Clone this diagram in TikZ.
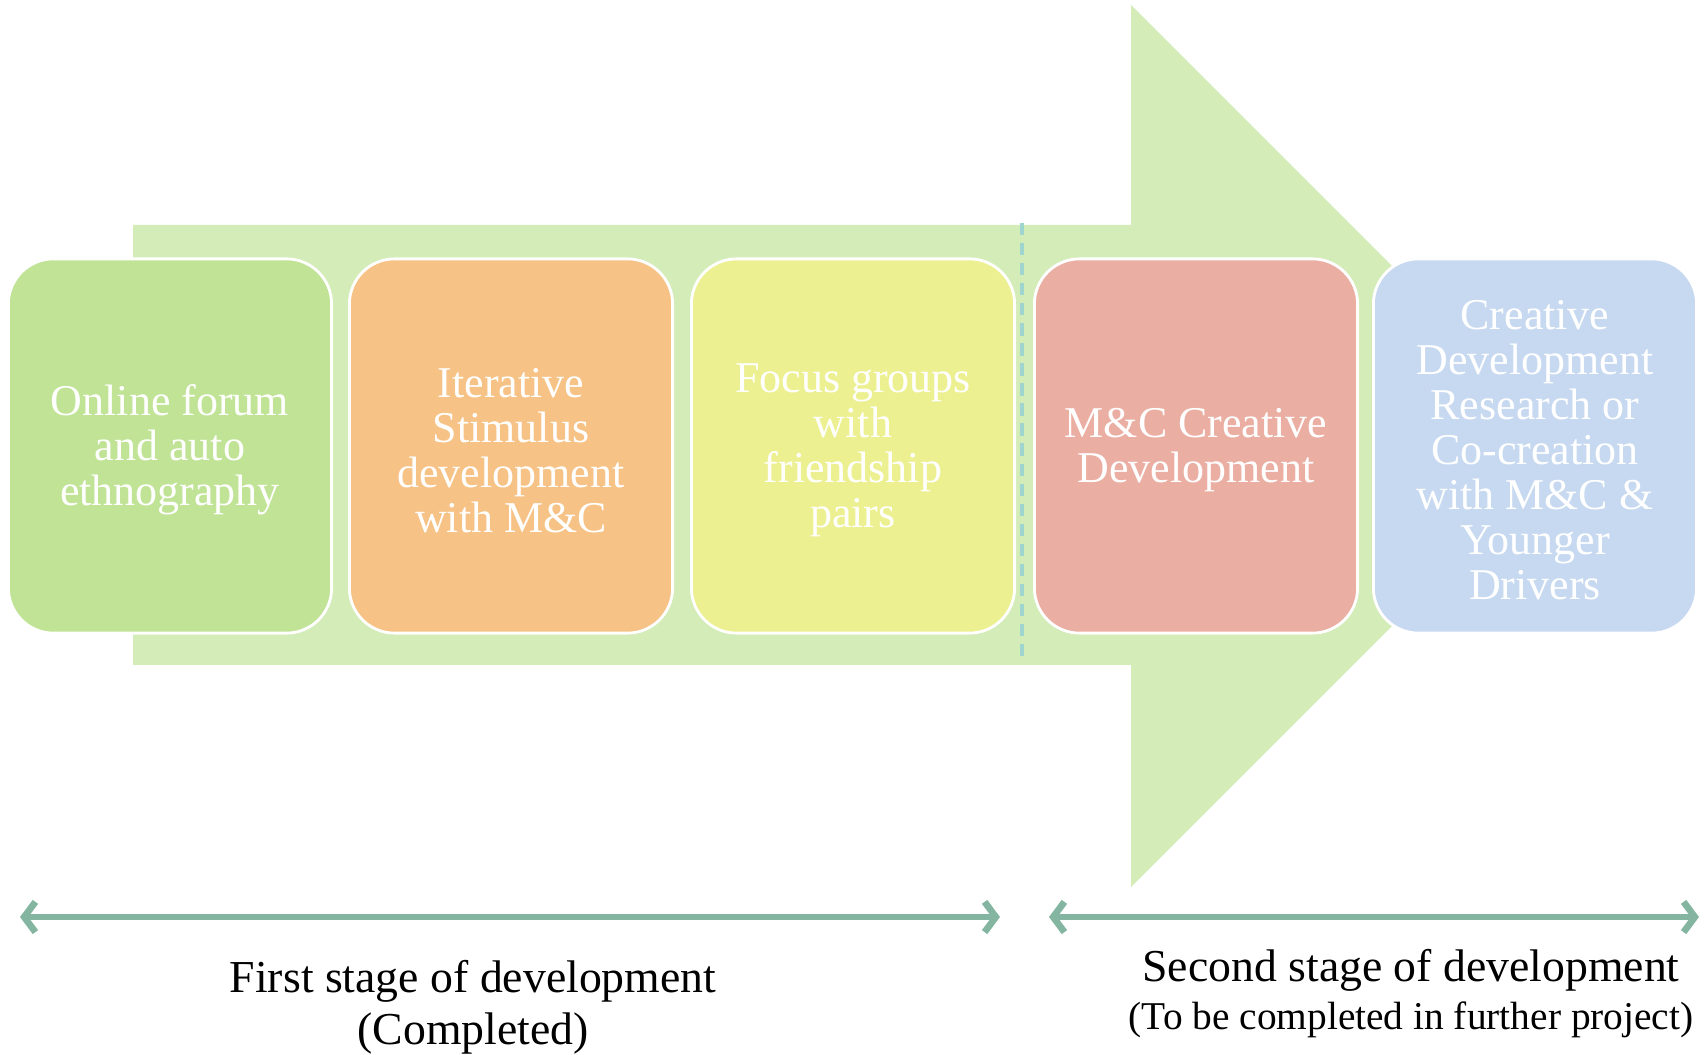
\documentclass[tikz,border=0pt]{standalone}
\usepackage{fontspec}
\setmainfont{Liberation Serif}
\usetikzlibrary{arrows.meta}
\definecolor{arrowbg}{HTML}{D3ECB8}
\definecolor{forumgreen}{HTML}{C0E396}
\definecolor{stimorange}{HTML}{F6C285}
\definecolor{focusyellow}{HTML}{ECF091}
\definecolor{creativepink}{HTML}{EBAEA2}
\definecolor{researchblue}{HTML}{C7D9F0}
\definecolor{stagegreen}{HTML}{84B5A0}
\definecolor{splitteal}{HTML}{9ED5CF}
\begin{document}
\begin{tikzpicture}[x=0.01cm, y=-0.01cm,
  stage box/.style={rectangle, draw=white, line width=0.8pt, rounded corners=0.45cm, minimum width=3.23cm, minimum height=3.74cm, align=center, text=white, font=\fontsize{12.5}{12.8}\selectfont},
  stage arrow/.style={draw=stagegreen, line width=1.9pt, {Straight Barb[length=3.2pt,width=8.6pt]}-{Straight Barb[length=3.2pt,width=8.6pt]}}]
\useasboundingbox (0,0) rectangle (1705,1055);
% big arrow behind the steps
\fill[arrowbg] (133,225) -- (1131,225) -- (1131,5) -- (1572,446) -- (1131,887) -- (1131,665) -- (133,665) -- cycle;
\coordinate (splittop) at (1022,223);
\coordinate (splitbot) at (1022,660);
\draw[splitteal, line width=1pt, dash pattern=on 3.5pt off 2.2pt] (splittop) -- (splitbot);
\begin{scope}[every node/.style={stage box}]
\node[fill=forumgreen] (forum) at (170,446) {\rule{0pt}{10.8pt}Online forum\\and auto\\ethnography};
\node[fill=stimorange] (stimulus) at (511,446) {\rule{0pt}{10.8pt}Iterative\\Stimulus\\development\\with M\&C};
\node[fill=focusyellow] (focus) at (853,446) {\rule{0pt}{10.8pt}Focus groups\\with\\friendship\\pairs};
\node[fill=creativepink] (creative) at (1196,446) {\rule{0pt}{10.8pt}M\&C Creative\\Development};
\node[fill=researchblue] (research) at (1535,446) {\rule{0pt}{10.8pt}Creative\\Development\\Research or\\Co-creation\\with M\&C \&\\Younger\\Drivers};
\end{scope}
\coordinate (firstl) at (20,917);
\coordinate (firstr) at (1000,917);
\coordinate (secondl) at (1049,917);
\coordinate (secondr) at (1699,917);
\draw[stage arrow] (firstl) -- (firstr);
\draw[stage arrow] (secondl) -- (secondr);
\node[align=center, font=\fontsize{13}{14.8}\selectfont] (firstlabel) at (473,1007) {First stage of development\\(Completed)};
\node[align=center, font=\fontsize{13}{13.7}\selectfont] (secondlabel) at (1411,994) {Second stage of development\\{\fontsize{11.2}{13.7}\selectfont (To be completed in further project)}};
\end{tikzpicture}
\end{document}
